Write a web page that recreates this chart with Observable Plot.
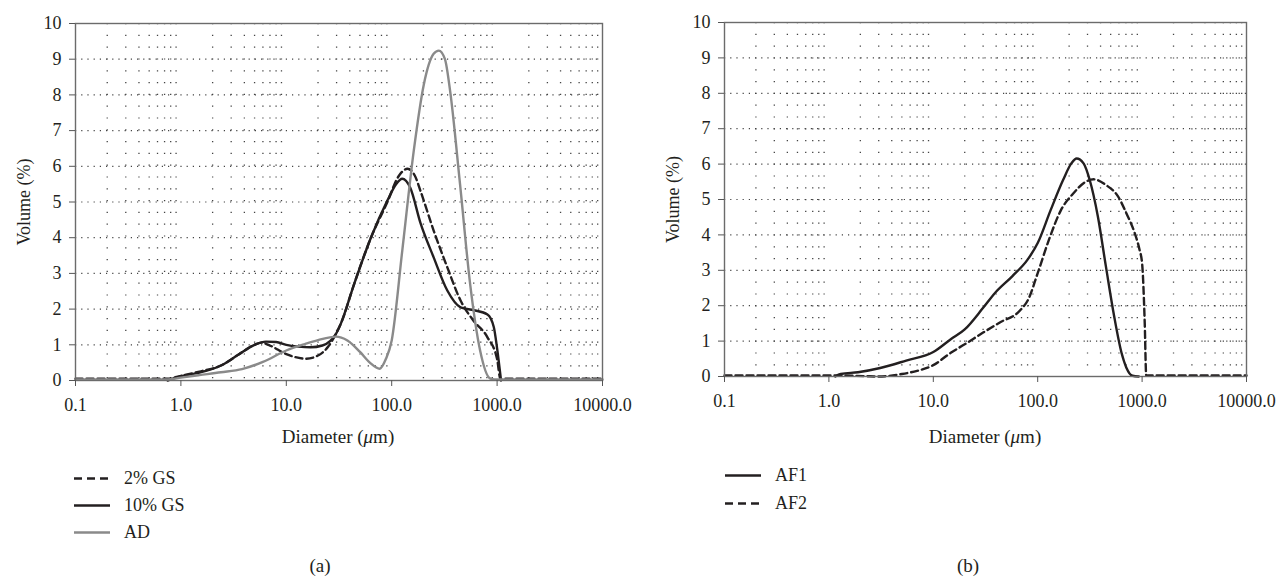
<!DOCTYPE html>
<html>
<head>
<meta charset="utf-8">
<script src="https://cdn.jsdelivr.net/npm/d3@7"></script>
<script src="https://cdn.jsdelivr.net/npm/@observablehq/plot@0.6"></script>
<style>
  html, body { margin: 0; padding: 0; background: #fff; }
  #root { position: relative; width: 1282px; height: 576px; overflow: hidden; font-family: "Liberation Serif", serif; color: #231f20; }
  .panel { position: absolute; top: 0; }
  .xlabel { position: absolute; font-size: 19px; transform: translate(-50%, -50%); white-space: nowrap; }
  .caption { position: absolute; font-size: 19px; transform: translate(-50%, -50%); }
  .legend { position: absolute; font-size: 18px; }
  .legend .row { position: absolute; display: flex; align-items: center; white-space: nowrap; transform: translateY(-50%); }
  .legend svg { margin-right: 14px; }
</style>
</head>
<body>
<div id="root"></div>
<script>
// ---------- axis data ----------
const xTicks = [0.1, 1, 10, 100, 1000, 10000];
const xTickLabels = ["0.1", "1.0", "10.0", "100.0", "1000.0", "10000.0"];
const yTicks = [0, 1, 2, 3, 4, 5, 6, 7, 8, 9, 10];
const yGrid = [1, 2, 3, 4, 5, 6, 7, 8, 9];
const decades = [0.1, 1, 10, 100, 1000];
const minorMultipliers = [2, 3, 4, 5, 6, 7, 8, 9];

// ---------- panel (a) series ----------
const gs2Diam = [0.1, 0.75, 1.0, 1.5, 2.4, 3.5, 5, 5.8, 7, 10, 15.3, 20, 25, 29.5, 33, 44, 63.5, 91, 115, 141, 165, 188, 250, 337, 450, 595, 810, 1000, 1080, 1150, 10000];
const gs2Vol  = [0.05, 0.05, 0.13, 0.25, 0.42, 0.72, 1.0, 1.06, 0.98, 0.74, 0.61, 0.7, 0.95, 1.3, 1.6, 2.7, 4.0, 5.0, 5.7, 5.93, 5.75, 5.3, 4.2, 3.17, 2.24, 1.68, 1.21, 0.6, 0.02, 0.05, 0.05];

const gs10Diam = [0.75, 1.0, 1.5, 2.4, 3.5, 5, 6.4, 8, 10, 13, 17, 22, 29.5, 33, 44, 63.5, 91, 110, 126, 150, 188, 250, 337, 450, 600, 810, 930, 1000, 1090];
const gs10Vol  = [0.0, 0.12, 0.22, 0.42, 0.72, 1.0, 1.09, 1.08, 1.0, 0.95, 0.93, 0.98, 1.3, 1.6, 2.7, 4.0, 5.04, 5.5, 5.65, 5.4, 4.4, 3.45, 2.52, 2.05, 1.97, 1.85, 1.5, 0.9, 0.0];

const adDiam = [0.1, 0.75, 1.0, 1.5, 2.4, 3.8, 6, 10, 15, 20, 29.5, 38, 50, 62, 77, 88, 100, 126, 162, 202, 250, 280, 320, 358, 445, 555, 690, 855, 950, 1100, 10000];
const adVol  = [0.03, 0.03, 0.08, 0.15, 0.23, 0.32, 0.52, 0.84, 1.02, 1.13, 1.23, 1.12, 0.8, 0.5, 0.33, 0.6, 1.12, 3.64, 6.44, 8.3, 9.15, 9.24, 9.0, 8.12, 5.5, 2.7, 0.84, 0.06, 0.03, 0.03, 0.03];

// ---------- panel (b) series ----------
const af1Diam = [1.15, 1.3, 1.9, 3.1, 5.5, 10, 14.7, 20, 30, 39, 57, 80, 100, 133, 175, 210, 236, 275, 315, 377, 450, 540, 635, 707, 810, 930];
const af1Vol  = [0.0, 0.07, 0.12, 0.24, 0.45, 0.69, 1.05, 1.33, 1.94, 2.36, 2.83, 3.3, 3.77, 4.7, 5.55, 6.02, 6.16, 6.02, 5.55, 4.52, 3.11, 1.7, 0.67, 0.25, 0.02, 0.0];

const af2Diam = [0.1, 1.3, 2.2, 3, 5, 7, 10, 14.7, 20, 30, 43, 69, 81, 100, 128, 167, 219, 288, 345, 450, 590, 707, 850, 945, 1000, 1060, 1095, 1150, 10000];
const af2Vol  = [0.03, 0.03, 0.01, 0.0, 0.07, 0.16, 0.32, 0.67, 0.91, 1.24, 1.52, 1.89, 2.17, 2.92, 3.86, 4.7, 5.17, 5.5, 5.57, 5.41, 5.08, 4.61, 4.05, 3.58, 3.2, 1.5, 0.03, 0.03, 0.03];

const labelsA = ["2% GS", "10% GS", "AD"];
const labelsB = ["AF1", "AF2"];

// ---------- helpers ----------
const BLACK = "#231f20", GRAY = "#8a8a8a";
const minorTicks = [];
for (const dec of decades) for (const m of minorMultipliers) minorTicks.push(dec * m);

const toRows = (ds, vs) => ds.map((d, i) => ({d, v: vs[i]}));

function panel({width, height, ml, mr, mt, mb, series}) {
  return Plot.plot({
    width, height,
    marginLeft: ml, marginRight: mr, marginTop: mt, marginBottom: mb,
    style: {fontFamily: "'Liberation Serif', serif", fontSize: "18px", color: "#231f20", background: "transparent", overflow: "visible"},
    x: {type: "log", domain: [0.1, 10000]},
    y: {domain: [0, 10]},
    marks: [
      Plot.ruleX(minorTicks, {stroke: "#444", strokeWidth: 1.3, strokeDasharray: "1.2,10.6"}),
      Plot.ruleY(yGrid, {stroke: "#444", strokeWidth: 1.2, strokeDasharray: "1.2,5"}),
      ...series.map(s => Plot.line(toRows(s.d, s.v), {
        x: "d", y: "v", curve: "monotone-x", stroke: s.stroke, strokeWidth: 2.4,
        strokeDasharray: s.dash || null
      })),
      Plot.frame({stroke: "#6b6b6b", strokeWidth: 1.4}),
      Plot.axisX(xTicks, {tickFormat: d => xTickLabels[xTicks.indexOf(d)], tickSize: 6, tickPadding: 12, label: null, stroke: "#555"}),
      Plot.axisY(yTicks, {tickSize: 6, tickPadding: 8, label: "Volume (%)", labelAnchor: "center", labelArrow: "none", labelOffset: 58, stroke: "#555"})
    ]
  });
}

const root = document.getElementById("root");

const pa = panel({
  width: 640, height: 420, ml: 75, mr: 38, mt: 23, mb: 40,
  series: [
    {d: gs10Diam, v: gs10Vol, stroke: BLACK},
    {d: gs2Diam, v: gs2Vol, stroke: BLACK, dash: "7,4"},
    {d: adDiam, v: adVol, stroke: GRAY}
  ]
});
const da = document.createElement("div"); da.className = "panel"; da.style.left = "0px"; da.appendChild(pa); root.appendChild(da);

const pb = panel({
  width: 642, height: 420, ml: 84, mr: 36, mt: 22, mb: 44,
  series: [
    {d: af2Diam, v: af2Vol, stroke: BLACK, dash: "7,4"},
    {d: af1Diam, v: af1Vol, stroke: BLACK}
  ]
});
const db = document.createElement("div"); db.className = "panel"; db.style.left = "640px"; db.appendChild(pb); root.appendChild(db);

// axis titles
function addText(cls, html, x, y) {
  const el = document.createElement("div");
  el.className = cls; el.innerHTML = html;
  el.style.left = x + "px"; el.style.top = y + "px";
  root.appendChild(el);
}
addText("xlabel", "Diameter (<i>μ</i>m)", 338, 437);
addText("xlabel", "Diameter (<i>μ</i>m)", 985, 437);
addText("caption", "(a)", 320, 566);
addText("caption", "(b)", 968, 566);

// legends
function legend(items, x, ys) {
  const lg = document.createElement("div"); lg.className = "legend";
  lg.style.left = x + "px"; lg.style.top = "0px";
  items.forEach((it, i) => {
    const row = document.createElement("div"); row.className = "row";
    row.style.left = "0px"; row.style.top = ys[i] + "px";
    row.innerHTML = `<svg width="36" height="8"><line x1="0" x2="36" y1="4" y2="4" stroke="${it.stroke}" stroke-width="2.6" ${it.dash ? `stroke-dasharray="${it.dash}"` : ""}/></svg><span>${it.label}</span>`;
    lg.appendChild(row);
  });
  root.appendChild(lg);
}
legend([
  {label: labelsA[0], stroke: BLACK, dash: "8,5"},
  {label: labelsA[1], stroke: BLACK},
  {label: labelsA[2], stroke: GRAY}
], 74, [478, 505, 532]);
legend([
  {label: labelsB[0], stroke: BLACK},
  {label: labelsB[1], stroke: BLACK, dash: "8,5"}
], 725, [475, 503]);
</script>
</body>
</html>
